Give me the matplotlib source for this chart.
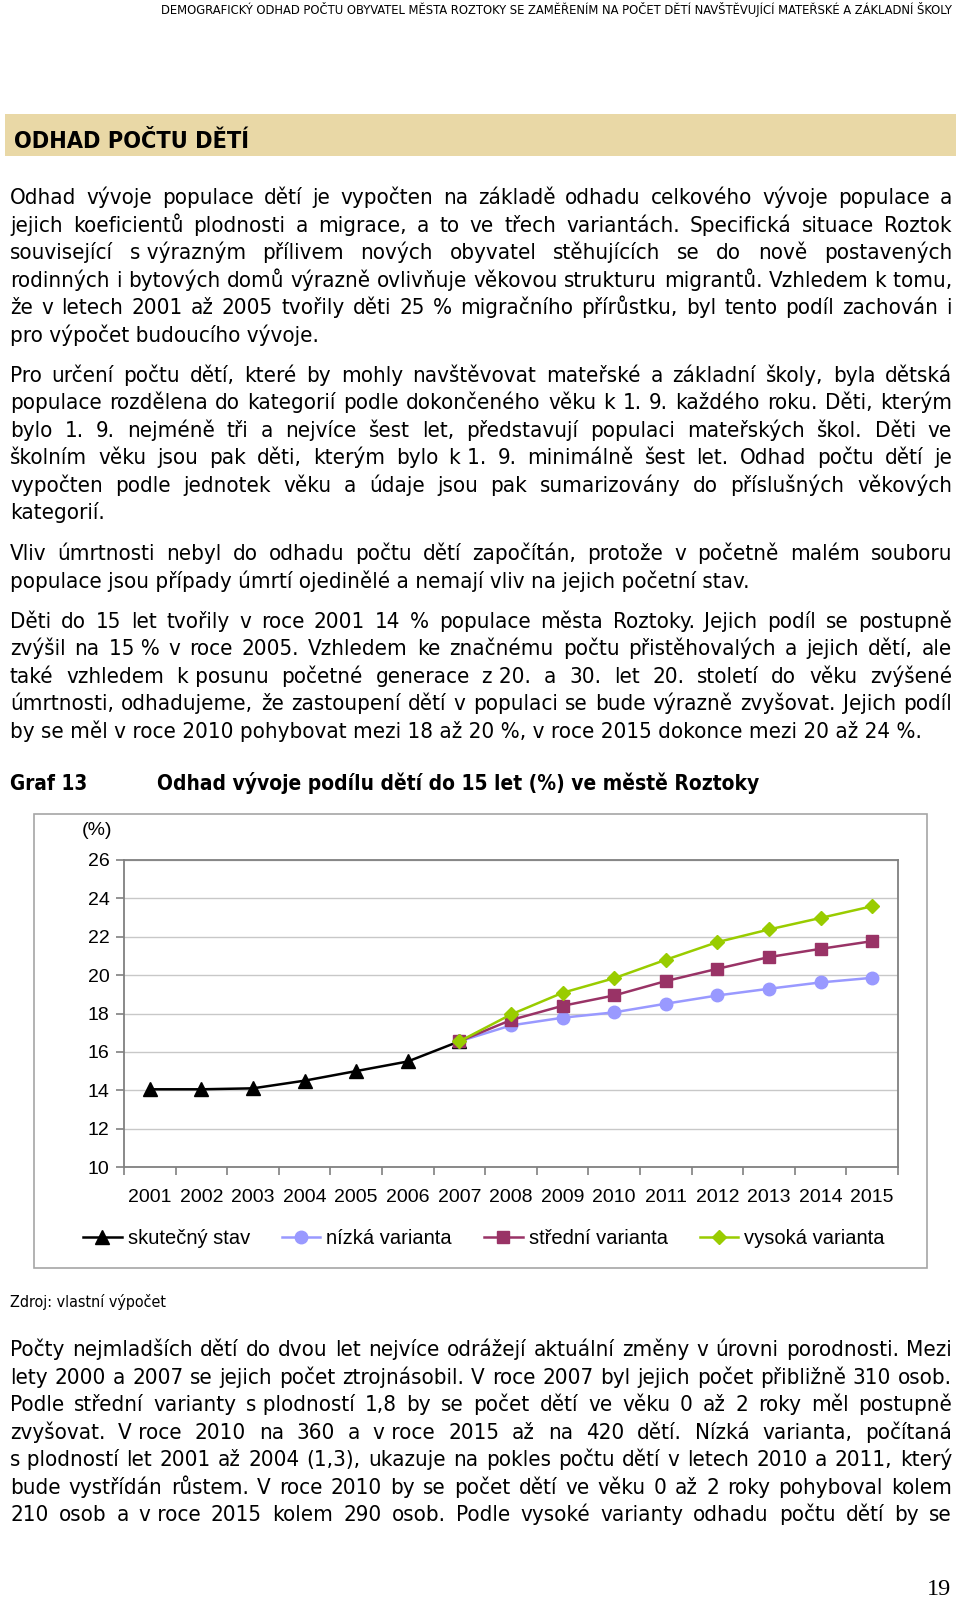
import os
import numpy as np
import matplotlib
matplotlib.use('Agg')
import matplotlib.pyplot as plt
from matplotlib import font_manager as fm
from matplotlib.patches import Rectangle

W, H = 960, 1600

# data of the chart
years = ['2001', '2002', '2003', '2004', '2005', '2006', '2007', '2008',
         '2009', '2010', '2011', '2012', '2013', '2014', '2015']
skutecny = [14.05, 14.05, 14.1, 14.5, 15.0, 15.5, 16.55]
nizka = [16.55, 17.38, 17.78, 18.06, 18.51, 18.94, 19.29, 19.62, 19.86]
stredni = [16.55, 17.66, 18.40, 18.94, 19.69, 20.33, 20.94, 21.37, 21.77]
vysoka = [16.55, 17.95, 19.08, 19.84, 20.80, 21.72, 22.38, 22.98, 23.59]
series_names = ['skutečný stav', 'nízká varianta', 'střední varianta', 'vysoká varianta']
y_ticks = [10, 12, 14, 16, 18, 20, 22, 24, 26]

header = 'DEMOGRAFICKÝ ODHAD POČTU OBYVATEL MĚSTA ROZTOKY SE ZAMĚŘENÍM NA POČET DĚTÍ NAVŠTĚVUJÍCÍ MATEŘSKÉ A ZÁKLADNÍ ŠKOLY'
section = 'ODHAD POČTU DĚTÍ'

par1 = [
    'Odhad vývoje populace dětí je vypočten na základě odhadu celkového vývoje populace a',
    'jejich koeficientů plodnosti a migrace, a to ve třech variantách. Specifická situace Roztok',
    'související s\u00a0výrazným přílivem nových obyvatel stěhujících se do nově postavených',
    'rodinných i bytových domů výrazně ovlivňuje věkovou strukturu migrantů. Vzhledem k\u00a0tomu,',
    'že v letech 2001 až 2005 tvořily děti 25 % migračního přírůstku, byl tento podíl zachován i',
    'pro výpočet budoucího vývoje.',
]
par2 = [
    'Pro určení počtu dětí, které by mohly navštěvovat mateřské a základní školy, byla dětská',
    'populace rozdělena do kategorií podle dokončeného věku k 1. 9. každého roku. Děti, kterým',
    'bylo 1. 9. nejméně tři a nejvíce šest let, představují populaci mateřských škol. Děti ve',
    'školním věku jsou pak děti, kterým bylo k\u00a01. 9. minimálně šest let. Odhad počtu dětí je',
    'vypočten podle jednotek věku a údaje jsou pak sumarizovány do příslušných věkových',
    'kategorií.',
]
par3 = [
    'Vliv úmrtnosti nebyl do odhadu počtu dětí započítán, protože v početně malém souboru',
    'populace jsou případy úmrtí ojedinělé a nemají vliv na jejich početní stav.',
]
par4 = [
    'Děti do 15 let tvořily v roce 2001 14 % populace města Roztoky. Jejich podíl se postupně',
    'zvýšil na 15\u00a0% v roce 2005. Vzhledem ke značnému počtu přistěhovalých a jejich dětí, ale',
    'také vzhledem k\u00a0posunu početné generace z\u00a020. a 30. let 20. století do věku zvýšené',
    'úmrtnosti, odhadujeme, že zastoupení dětí v populaci se bude výrazně zvyšovat. Jejich podíl',
    'by se měl v roce 2010 pohybovat mezi 18 až 20 %, v roce 2015 dokonce mezi 20 až 24 %.',
]
par5 = [
    'Počty nejmladších dětí do dvou let nejvíce odrážejí aktuální změny v úrovni porodnosti. Mezi',
    'lety 2000 a 2007 se jejich počet ztrojnásobil. V roce 2007 byl jejich počet přibližně 310 osob.',
    'Podle střední varianty s\u00a0plodností 1,8 by se počet dětí ve věku 0 až 2 roky měl postupně',
    'zvyšovat. V\u00a0roce 2010 na 360 a v\u00a0roce 2015 až na 420 dětí. Nízká varianta, počítaná',
    's\u00a0plodností let 2001 až 2004 (1,3), ukazuje na pokles počtu dětí v letech 2010 a 2011, který',
    'bude vystřídán růstem. V roce 2010 by se počet dětí ve věku 0 až 2 roky pohyboval kolem',
    '210 osob a v\u00a0roce 2015 kolem 290 osob. Podle vysoké varianty odhadu počtu dětí by se',
]


def pick_font(bold):
    want = 'DejaVuSansCondensed-Bold.ttf' if bold else 'DejaVuSansCondensed.ttf'
    for f in fm.fontManager.ttflist:
        if os.path.basename(f.fname) == want:
            return f.fname
    return None


def fprop(size, bold=False):
    path = pick_font(bold)
    if path:
        return fm.FontProperties(fname=path, size=size)
    return fm.FontProperties(family='Liberation Sans', size=size - 0.5,
                             weight='bold' if bold else 'normal')


plt.rcParams['font.family'] = ['Liberation Sans', 'DejaVu Sans']

fig = plt.figure(figsize=(W / 100, H / 100), dpi=100)
renderer = fig.canvas.get_renderer()

body = fprop(16)
LEFT, RIGHT, PITCH = 10, 952, 27.55


def put(x, y, s, fp, **kw):
    fig.text(x / W, 1 - y / H, s, fontproperties=fp, va='baseline', **kw)


def text_w(s, fp):
    return renderer.get_text_width_height_descent(s, fp, ismath=False)[0]


def paragraph(lines, y0, justify_last=False):
    for i, line in enumerate(lines):
        y = y0 + i * PITCH
        if i == len(lines) - 1 and not justify_last:
            put(LEFT, y, line, body)
            continue
        words = line.split(' ')
        ws = [text_w(w, body) for w in words]
        gap = (RIGHT - LEFT - sum(ws)) / (len(words) - 1)
        x = LEFT
        for w, wd in zip(words, ws):
            put(x, y, w, body)
            x += wd + gap


# page header and section band
put(952, 14, header, fprop(9.25), ha='right')
fig.add_artist(Rectangle((5 / W, 1 - 156 / H), 951 / W, 42 / H, transform=fig.transFigure,
                         fc='#E9D8A6', ec='none', zorder=0))
put(14, 148.5, section, fprop(16.8, bold=True))

paragraph(par1, 204)
paragraph(par2, 381.5)
paragraph(par3, 560)
paragraph(par4, 627.5)

put(10, 789.5, 'Graf 13', fprop(14.9, bold=True))
put(157, 789.5, 'Odhad vývoje podílu dětí do 15 let (%) ve městě Roztoky', fprop(15, bold=True))

# chart frame
fig.add_artist(Rectangle((34 / W, 1 - 1268 / H), (927 - 34) / W, (1268 - 814) / H,
                         transform=fig.transFigure, fill=False, ec='#A6A6A6', lw=1.2))

ax = fig.add_axes([124 / W, 1 - 1167 / H, (898 - 124) / W, (1167 - 860) / H])
xs = np.arange(len(years))
h1, = ax.plot(xs[:len(skutecny)], skutecny, color='black', marker='^', ms=10.5, lw=1.8)
h2, = ax.plot(xs[6:], nizka, color='#9999FF', marker='o', ms=9, lw=1.8)
h3, = ax.plot(xs[6:], stredni, color='#993366', marker='s', ms=8.5, lw=1.8)
h4, = ax.plot(xs[6:], vysoka, color='#99CC00', marker='D', ms=7.5, lw=1.8)

ax.set_xlim(-0.5, len(years) - 0.5)
ax.set_ylim(10, 26)
ax.set_yticks(y_ticks)
ax.grid(axis='y', color='#C8C8C8', lw=1)
ax.set_axisbelow(True)
ax.set_xticks(xs)
ax.set_xticklabels(years)
ax.set_xticks(np.arange(-0.5, len(years), 1), minor=True)
ax.tick_params(axis='x', which='major', length=0, pad=16, labelsize=14)
ax.tick_params(axis='x', which='minor', length=6, color='#808080', width=1.2)
ax.tick_params(axis='y', length=6, color='#808080', width=1.2, pad=4.5, labelsize=14)
for sp in ax.spines.values():
    sp.set_color('#808080')
    sp.set_linewidth(1.3)

fig.text(97 / W, 1 - 830 / H, '(%)', fontsize=14, ha='center', va='center')

fig.legend([h1, h2, h3, h4], series_names, loc='center', bbox_to_anchor=(484 / W, 1 - 1239 / H),
           ncol=4, frameon=False, fontsize=14.5, handlelength=1.9, handletextpad=0.3,
           columnspacing=1.6, borderpad=0)

put(10, 1307, 'Zdroj: vlastní výpočet', fprop(11.5))

paragraph(par5, 1356, justify_last=True)

fig.text(951 / W, 1 - 1595 / H, '19', family='Liberation Serif', fontsize=17.5,
         ha='right', va='baseline')

fig.savefig('out.png', dpi=100)
